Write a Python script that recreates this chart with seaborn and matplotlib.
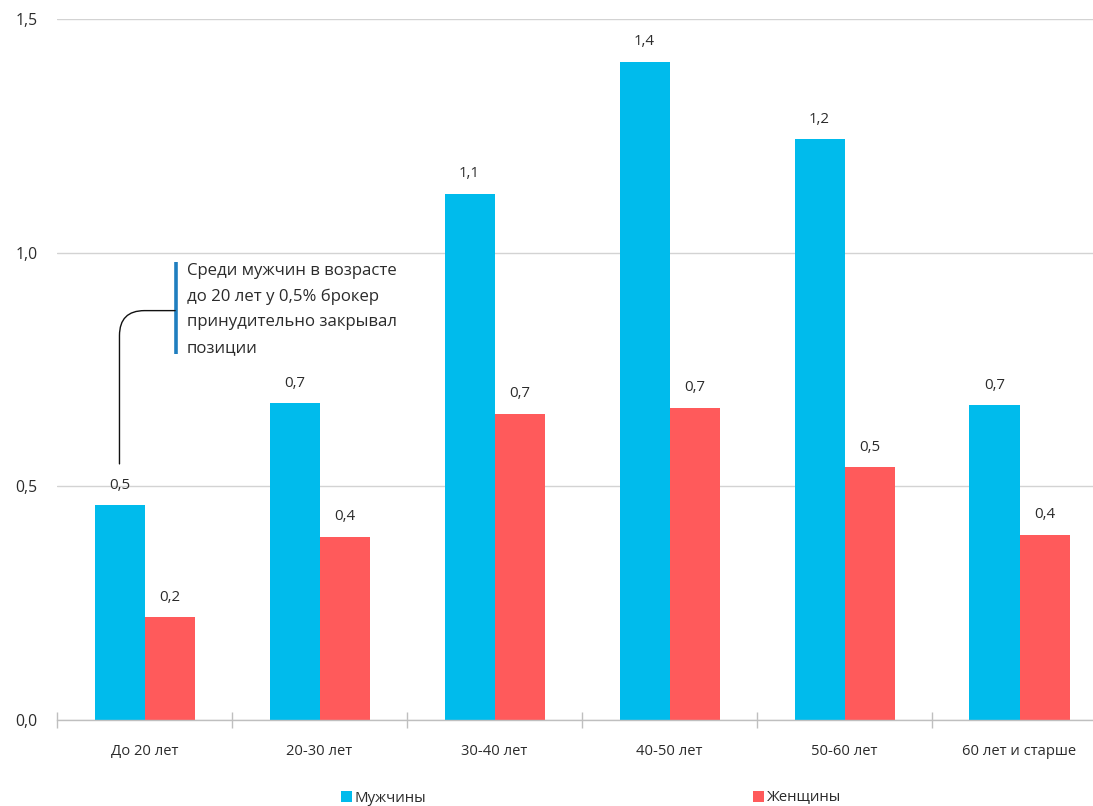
import matplotlib
matplotlib.use("Agg")
import matplotlib.pyplot as plt
from matplotlib.patches import Patch
from matplotlib.ticker import FixedLocator, FuncFormatter
import pandas as pd
import seaborn as sns

# Share of traders whose positions were force-closed by the broker, %
age_groups = ["До 20 лет", "20-30 лет", "30-40 лет", "40-50 лет", "50-60 лет", "60 лет и старше"]
men = [0.46, 0.678, 1.126, 1.408, 1.243, 0.674]
women = [0.22, 0.392, 0.655, 0.668, 0.541, 0.396]
series_names = ["Мужчины", "Женщины"]
y_ticks = [0.0, 0.5, 1.0, 1.5]
note = "Среди мужчин в возрасте\nдо 20 лет у 0,5% брокер\nпринудительно закрывал\nпозиции"

df = pd.DataFrame({
    "age": age_groups * 2,
    "value": men + women,
    "sex": [series_names[0]] * len(men) + [series_names[1]] * len(women),
})

sns.set_theme(style="white")
plt.rcParams["font.family"] = ["Open Sans", "DejaVu Sans"]
text_color = "#2b2b2b"
colors = {"Мужчины": "#00BBEC", "Женщины": "#FF5A5B"}

fig = plt.figure(figsize=(10.93, 8.06), dpi=100)
ax = fig.add_axes([57 / 1093, 86 / 806, 1050 / 1093, 701 / 806])

sns.barplot(data=df, x="age", y="value", hue="sex", order=age_groups,
            hue_order=series_names, palette=colors, width=100 / 175,
            gap=0, saturation=1, linewidth=0, ax=ax, legend=False)

ax.set_xlim(-0.5, len(age_groups) - 0.5)
ax.set_ylim(0, 1.5)
ax.set_xlabel("")
ax.set_ylabel("")

# value labels, one decimal with a comma
for cont in ax.containers:
    vals = [b.get_height() for b in cont]
    ax.bar_label(cont, labels=[f"{v:.1f}".replace(".", ",") for v in vals],
                 padding=9, fontsize=10.8, color=text_color)

# y axis: gridlines only
ax.yaxis.set_major_locator(FixedLocator(y_ticks))
ax.yaxis.set_major_formatter(FuncFormatter(lambda v, p: f"{v:.1f}".replace(".", ",")))
ax.tick_params(axis="y", length=0, pad=14, labelsize=11.3, labelcolor=text_color)
ax.grid(axis="y", color="#D3D3D3", lw=1)
ax.set_axisbelow(True)

# x axis: labels at centres, ticks at category boundaries
ax.set_xticks(range(len(age_groups)))
ax.set_xticklabels(age_groups)
ax.set_xticks([i - 0.5 for i in range(len(age_groups) + 1)], minor=True)
ax.tick_params(axis="x", which="major", length=0, pad=17, labelsize=10.6, labelcolor=text_color)
ax.tick_params(axis="x", which="minor", direction="inout", length=11, width=1,
               color="#BFBFBF", bottom=True)

for side in ["left", "right", "top"]:
    ax.spines[side].set_visible(False)
ax.spines["bottom"].set_color("#BFBFBF")
ax.spines["bottom"].set_linewidth(1)

# callout
ax.plot([0.181, 0.181], [0.783, 0.981], color="#1F7EBF", lw=2.6, solid_capstyle="butt")
ax.text(0.243, 0.978, note, ha="left", va="top", fontsize=12.1,
        color=text_color, linespacing=1.78)
ax.annotate("", xy=(-0.143, 0.548), xytext=(0.175, 0.876),
            arrowprops=dict(arrowstyle="-", color="#111111", lw=1,
                            connectionstyle="angle,angleA=0,angleB=90,rad=25",
                            shrinkA=0, shrinkB=0))

# legend
handles = [Patch(facecolor=colors[n], edgecolor="none") for n in series_names]
fig.legend(handles, series_names, loc="center", bbox_to_anchor=(591 / 1093, 1 - 798 / 806),
           ncol=2, frameon=False, fontsize=10.8, handlelength=0.7, handleheight=0.7,
           handletextpad=0.2, columnspacing=21.8, labelcolor=text_color)

fig.savefig("out.png", dpi=100)
